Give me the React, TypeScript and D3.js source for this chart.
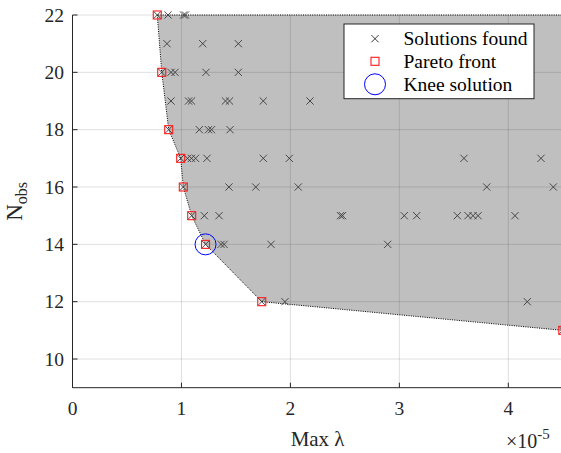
import React from "react";
import * as d3 from "d3";

const solutionsX = [
  0.778, 0.877, 1.019, 1.037,
  0.867, 1.195, 1.522,
  0.819, 0.904, 0.941, 1.225, 1.522,
  0.904, 1.065, 1.092, 1.404, 1.441, 1.751, 2.18,
  0.883, 1.164, 1.248, 1.276, 1.446,
  0.993, 1.056, 1.092, 1.129, 1.234, 1.751, 1.99, 3.593, 4.3,
  1.017, 1.436, 1.682, 2.072, 3.802, 4.413,
  1.094, 1.21, 1.345, 2.46, 2.478, 3.045, 3.159, 3.532, 3.63, 3.676, 3.722, 4.061,
  1.221, 1.363, 1.391, 1.822, 2.893,
  1.737, 1.95, 4.174,
  4.5,
];
const solutionsY = [
  22, 22, 22, 22,
  21, 21, 21,
  20, 20, 20, 20, 20,
  19, 19, 19, 19, 19, 19, 19,
  18, 18, 18, 18, 18,
  17, 17, 17, 17, 17, 17, 17, 17, 17,
  16, 16, 16, 16, 16, 16,
  15, 15, 15, 15, 15, 15, 15, 15, 15, 15, 15, 15,
  14, 14, 14, 14, 14,
  12, 12, 12,
  11,
];
const paretoX = [0.778, 0.819, 0.883, 0.993, 1.017, 1.094, 1.221, 1.737, 4.5];
const paretoY = [22, 20, 18, 17, 16, 15, 14, 12, 11];
const kneeX = [1.221];
const kneeY = [14];
const xTicks = [0, 1, 2, 3, 4];
const yTicks = [10, 12, 14, 16, 18, 20, 22];
const legendLabels = ["Solutions found", "Pareto front", "Knee solution"];

const FONT = "'Liberation Serif', 'Times New Roman', serif";
const AX = "#262626";

export default function App() {
  const x = d3.scaleLinear().domain([0, 4.5]).range([72.5, 562.8]);
  const y = d3.scaleLinear().domain([9, 22]).range([387.7, 15]);

  const poly: [number, number][] = paretoX.map((v, i) => [x(v), y(paretoY[i])]);
  poly.push([x(4.5), y(22)]);
  const polyPath = d3.line()(poly) + "Z";

  const xs = 3.6;
  const cross = (cx: number, cy: number, s = xs) =>
    `M${cx - s},${cy - s}L${cx + s},${cy + s}M${cx - s},${cy + s}L${cx + s},${cy - s}`;

  const x0 = x(0), y0 = y(9), yTop = y(22), xR = x(4.5);

  return (
    <svg width={561} height={453} style={{ position: "absolute", left: 0, top: 0, background: "#fff" }}
      fontFamily={FONT}>
      <path d={polyPath} fill="#bfbfbf" stroke="none" />
      {xTicks.filter(t => t > 0).map(t => (
        <line key={"gx" + t} x1={x(t)} x2={x(t)} y1={y0} y2={yTop} stroke="#262626" strokeOpacity={0.15} strokeWidth={1} />
      ))}
      {yTicks.map(t => (
        <line key={"gy" + t} x1={x0} x2={xR} y1={y(t)} y2={y(t)} stroke="#262626" strokeOpacity={0.15} strokeWidth={1} />
      ))}
      <path d={polyPath} fill="none" stroke="#000" strokeWidth={1} strokeDasharray="1,1.3" />
      {solutionsX.map((v, i) => (
        <path key={"s" + i} d={cross(x(v), y(solutionsY[i]))} stroke="#3a3a3a" strokeWidth={0.9} fill="none" />
      ))}
      {paretoX.map((v, i) => (
        <rect key={"p" + i} x={x(v) - 4} y={y(paretoY[i]) - 4} width={8} height={8} fill="none" stroke="#ff1a1a" strokeWidth={1.1} />
      ))}
      {kneeX.map((v, i) => (
        <circle key={"k" + i} cx={x(v)} cy={y(kneeY[i])} r={10.5} fill="none" stroke="#0000ff" strokeWidth={1} />
      ))}
      <line x1={x0} x2={x0} y1={yTop} y2={y0} stroke={AX} strokeWidth={1} />
      <line x1={x0} x2={xR} y1={y0} y2={y0} stroke={AX} strokeWidth={1} />
      {xTicks.map(t => (
        <g key={"xt" + t}>
          <line x1={x(t)} x2={x(t)} y1={y0} y2={y0 - 5} stroke={AX} strokeWidth={1} />
          <text x={x(t)} y={415} textAnchor="middle" fontSize={19.5} fill={AX}>{t}</text>
        </g>
      ))}
      {yTicks.map(t => (
        <g key={"yt" + t}>
          <line x1={x0} x2={x0 + 5} y1={y(t)} y2={y(t)} stroke={AX} strokeWidth={1} />
          <text x={64} y={y(t) + 6.5} textAnchor="end" fontSize={19.5} fill={AX}>{t}</text>
        </g>
      ))}
      <text x={317.6} y={446} textAnchor="middle" fontSize={21} fill={AX}>Max λ</text>
      <text x={506} y={448} fontSize={20} fill={AX}>
        ×10<tspan dy={-9} fontSize={15}>-5</tspan>
      </text>
      <text transform={`translate(22,${(yTop + y0) / 2}) rotate(-90)`} textAnchor="middle" fontSize={23} fill={AX}>
        N<tspan dy={5} fontSize={16}>obs</tspan>
      </text>
      <rect x={344} y={24} width={190} height={74.7} fill="#fff" stroke={AX} strokeWidth={1} />
      <path d={cross(375, 38.7, 3.6)} stroke="#222" strokeWidth={0.9} fill="none" />
      <rect x={371} y={57.3} width={8} height={8} fill="none" stroke="#ff1a1a" strokeWidth={1.1} />
      <circle cx={375} cy={84.3} r={10.5} fill="none" stroke="#0000ff" strokeWidth={1} />
      {legendLabels.map((l, i) => (
        <text key={l} x={403.5} y={45.3 + i * 22.8} fontSize={19.5} fill="#000">{l}</text>
      ))}
    </svg>
  );
}
